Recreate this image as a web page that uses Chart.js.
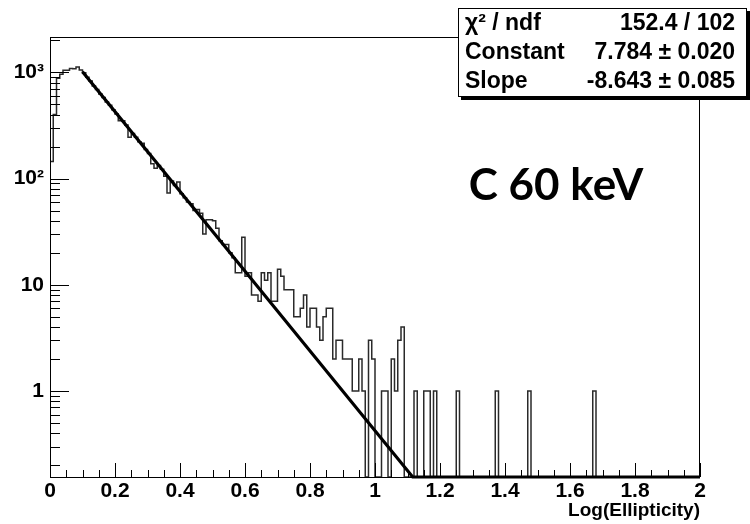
<!DOCTYPE html>
<html>
<head>
<meta charset="utf-8">
<script src="https://cdn.jsdelivr.net/npm/chart.js@4.4.1/dist/chart.umd.min.js"></script>
<style>
  html, body { margin: 0; padding: 0; background: #fff; }
</style>
</head>
<body>
<canvas id="myChart" width="750" height="524"></canvas>
<script>
//histogram: 200 bins of 0.01 from 0 to 2, counts
var binWidth = 0.01;
var counts = [
  145, 400, 880, 960, 1045, 1045, 1085, 1080, 1120, 1050,
  990, 900, 830, 745, 690, 625, 580, 525, 490, 445,
  405, 350, 350, 320, 245, 265, 245, 222, 215, 188,
  172, 138, 125, 133, 122, 105, 73, 95, 86, 93,
  72, 66, 60, 58, 50, 51, 47, 30, 41, 41,
  40, 34, 26, 24, 24, 20, 18, 13, 13, 28,
  12, 13, 8, 8, 7, 13, 11, 13, 7, 7,
  14, 12, 9, 9, 9, 5, 5, 6, 8, 4,
  6, 6, 4, 3, 5, 6, 6, 2, 3, 3,
  2, 2, 2, 1, 1, 2, 1, 0, 3, 2,
  0, 0, 1, 1, 0, 2, 1, 3, 4, 0,
  0, 0, 1, 0, 0, 1, 1, 0, 1, 0,
  0, 0, 0, 0, 0, 1, 0, 0, 0, 0,
  0, 0, 0, 0, 0, 0, 0, 1, 0, 0,
  0, 0, 0, 0, 0, 0, 0, 1, 0, 0,
  0, 0, 0, 0, 0, 0, 0, 0, 0, 0,
  0, 0, 0, 0, 0, 0, 0, 1, 0, 0,
  0, 0, 0, 0, 0, 0, 0, 0, 0, 0,
  0, 0, 0, 0, 0, 0, 0, 0, 0, 0,
  0, 0, 0, 0, 0, 0, 0, 0, 0, 0
];

//exponential fit line, end points
var fitX = [0.1, 1.116, 2.0];
var fitY = [1012, 0.155, 0.155];

//axis ranges and ticks
var xMin = 0, xMax = 2;
var yMin = 0.155, yMax = 2150;
var xTickValues = [0, 0.2, 0.4, 0.6, 0.8, 1, 1.2, 1.4, 1.6, 1.8, 2];
var xTickLabels = ['0', '0.2', '0.4', '0.6', '0.8', '1', '1.2', '1.4', '1.6', '1.8', '2'];
var yTickValues = [1, 10, 100, 1000];
var yTickLabels = ['1', '10', '10\u00b2', '10\u00b3'];
var xTitle = 'Log(Ellipticity)';

//fit statistics box
var statNames = ['\u03c7\u00b2 / ndf', 'Constant', 'Slope'];
var statValues = ['152.4 / 102', '7.784 \u00b1 0.020', '-8.643 \u00b1 0.085'];
var note = 'C 60 keV';

//histogram as step line: left edge of every bin, plus the right end.
//empty bins can't go on a log axis, so they sit on the frame bottom
var histPoints = counts.map(function (c, i) { return { x: i * binWidth, y: c > 0 ? c : yMin }; });
histPoints.push({ x: xMax, y: yMin });
var fitPoints = fitX.map(function (x, i) { return { x: x, y: fitY[i] }; });

var font = 'Liberation Sans, Arial, Helvetica, sans-serif';

//frame, inward tick marks, stats box and label
var rootLook = {
  id: 'rootLook',
  afterDraw: function (chart) {
    var c = chart.ctx, a = chart.chartArea;
    var xs = chart.scales.x, ys = chart.scales.y;
    c.save();
    c.strokeStyle = '#000';
    c.lineWidth = 1;
    c.strokeRect(a.left + 0.5, a.top + 0.5, a.right - a.left - 1, a.bottom - a.top);

    c.beginPath();
    //x ticks every 0.05, long ones at labels
    for (var k = 0; k <= 40; k++) {
      var px = Math.round(xs.getPixelForValue(k * 0.05)) + 0.5;
      var len = (k % 4 === 0) ? 14 : 7;
      c.moveTo(px, a.bottom);
      c.lineTo(px, a.bottom - len);
    }
    //y ticks: decades long, 2..9 short
    for (var e = -1; e <= 3; e++) {
      for (var m = 1; m <= 9; m++) {
        var v = m * Math.pow(10, e);
        if (v < yMin || v > yMax) continue;
        var py = Math.round(ys.getPixelForValue(v)) + 0.5;
        c.moveTo(a.left, py);
        c.lineTo(a.left + (m === 1 ? 19 : 10), py);
      }
    }
    c.stroke();

    //stats box with shadow
    var bx = 458, by = 8, bw = 289, bh = 89;
    c.fillStyle = '#000';
    c.fillRect(bx + 3, by + 3, bw, bh);
    c.fillStyle = '#fff';
    c.fillRect(bx, by, bw, bh);
    c.strokeRect(bx + 0.5, by + 0.5, bw - 1, bh - 1);
    c.fillStyle = '#000';
    c.font = 'bold 23px ' + font;
    c.textBaseline = 'middle';
    for (var r = 0; r < statNames.length; r++) {
      var ty = by + 16 + r * 29;
      c.textAlign = 'left';
      c.fillText(statNames[r], bx + 7, ty);
      c.textAlign = 'right';
      c.fillText(statValues[r], bx + bw - 12, ty);
    }

    //big label
    c.font = 'bold 44px Lato, "Open Sans", sans-serif';
    c.textAlign = 'center';
    c.fillText(note, 556, 186);
    c.restore();
  }
};

var ctx = document.getElementById('myChart').getContext('2d');
var myChart = new Chart(ctx, {
  type: 'line',
  data: {
    datasets: [{
      label: 'fit',
      data: fitPoints,
      borderColor: '#000',
      borderWidth: 3.2,
      pointRadius: 0,
      tension: 0,
      clip: false,
      order: 0
    }, {
      label: 'histogram',
      data: histPoints,
      borderColor: '#2a2a2a',
      borderWidth: 1.5,
      pointRadius: 0,
      stepped: 'before',
      clip: false,
      order: 1
    }]
  },
  options: {
    responsive: false,
    animation: false,
    devicePixelRatio: 1,
    layout: { padding: { top: 37, right: 50, left: 0, bottom: 0 } },
    plugins: {
      legend: { display: false },
      tooltip: { enabled: false },
      title: { display: false }
    },
    scales: {
      x: {
        type: 'linear',
        min: xMin,
        max: xMax,
        grid: { display: false, drawTicks: false },
        border: { display: false },
        afterBuildTicks: function (s) { s.ticks = xTickValues.map(function (v) { return { value: v }; }); },
        afterFit: function (s) { s.height = 47; },
        ticks: {
          autoSkip: false,
          maxRotation: 0,
          padding: 2,
          color: '#000',
          font: { family: font, size: 21, weight: 'bold' },
          callback: function (v, i) { return xTickLabels[i]; }
        },
        title: {
          display: true,
          text: xTitle,
          align: 'end',
          color: '#000',
          font: { family: font, size: 19, weight: 'bold' },
          padding: { top: 0, bottom: 2 }
        }
      },
      y: {
        type: 'logarithmic',
        min: yMin,
        max: yMax,
        grid: { display: false, drawTicks: false },
        border: { display: false },
        afterBuildTicks: function (s) { s.ticks = yTickValues.map(function (v) { return { value: v }; }); },
        afterFit: function (s) { s.width = 50; },
        ticks: {
          autoSkip: false,
          padding: 6,
          color: '#000',
          font: { family: font, size: 21, weight: 'bold' },
          callback: function (v, i) { return yTickLabels[i]; }
        }
      }
    }
  },
  plugins: [rootLook]
});
</script>
</body>
</html>
